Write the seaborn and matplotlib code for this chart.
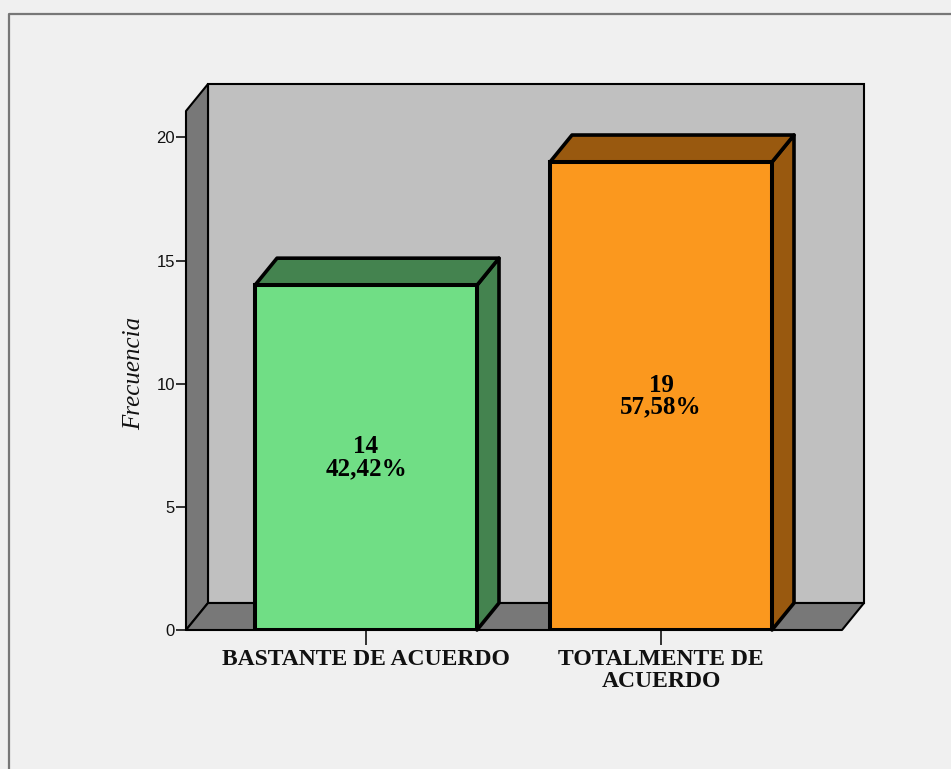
import matplotlib
matplotlib.use("Agg")
import matplotlib.pyplot as plt
import pandas as pd
import seaborn as sns
from matplotlib.lines import Line2D
from matplotlib.patches import Polygon
from matplotlib.transforms import ScaledTranslation

categories = ["BASTANTE DE ACUERDO", "TOTALMENTE DE\nACUERDO"]
frequencies = [14, 19]
percentages = ["42,42%", "57,58%"]
y_ticks = [0, 5, 10, 15, 20]

front_colors = ["#70DE85", "#FB981E"]
side_colors = ["#44834F", "#99590F"]
PANEL = "#F0F0F0"
WALL = "#C0C0C0"
FLOOR = "#787878"
INK = "#111111"

DPI = 100
W, H = 951, 769
DEPTH_X, DEPTH_Y = 22, 27  # extrusion of the 3D effect, pixels

sns.set_theme(style="white")
plt.rcParams["font.family"] = ["Liberation Serif", "DejaVu Serif"]

fig = plt.figure(figsize=(W / DPI, H / DPI), dpi=DPI, facecolor=PANEL)

# Frame of the output panel, open on the right and bottom
fig.add_artist(Line2D([9 / W, 9 / W, 1], [0, 1 - 14 / H, 1 - 14 / H],
                      transform=fig.transFigure, color="#777777", lw=1.6))

ax = fig.add_axes([186 / W, 1 - 630 / H, 656 / W, 519 / H])
ax.set_facecolor("none")

data = pd.DataFrame({"categoria": categories, "frecuencia": frequencies})
sns.barplot(data=data, x="categoria", y="frecuencia", hue="categoria",
            palette=front_colors, legend=False, dodge=False, saturation=1,
            width=222 / 295, edgecolor="black", linewidth=2.9, ax=ax, zorder=5)

ax.set_xlim(-180 / 295, 476 / 295)
ax.set_ylim(0, 519 / 24.63)

shift = ax.transData + ScaledTranslation(DEPTH_X / DPI, DEPTH_Y / DPI, fig.dpi_scale_trans)


def extruded_face(p0, p1, color, lw, z):
    """Parallelogram from the edge p0-p1 back to its translated copy."""
    to_display = ax.transData.transform
    to_shifted = shift.transform
    pts = [to_display(p0), to_display(p1), to_shifted(p1), to_shifted(p0)]
    ax.add_patch(Polygon(pts, closed=True, transform=None, facecolor=color,
                         edgecolor="black", linewidth=lw, zorder=z,
                         clip_on=False, joinstyle="round"))


x0, x1 = ax.get_xlim()
y0, y1 = ax.get_ylim()

# Back wall, side wall and floor of the box
ax.add_patch(Polygon([(x0, y0), (x1, y0), (x1, y1), (x0, y1)], closed=True,
                     transform=shift, facecolor=WALL, edgecolor="black",
                     linewidth=1.5, zorder=1, clip_on=False))
extruded_face((x0, y0), (x0, y1), FLOOR, 1.5, 2)
extruded_face((x0, y0), (x1, y0), FLOOR, 1.5, 2)

# Top and side faces of each column
for bar, side in zip(ax.patches[:len(frequencies)], side_colors):
    left, right, top = bar.get_x(), bar.get_x() + bar.get_width(), bar.get_height()
    extruded_face((right, 0), (right, top), side, 2.6, 4)
    extruded_face((left, top), (right, top), side, 2.6, 4)

for container, freq, pct in zip(ax.containers, frequencies, percentages):
    ax.bar_label(container, labels=[f"{freq}\n{pct}"], label_type="center",
                 fontsize=18, fontweight="bold", color="black",
                 linespacing=0.92, zorder=6)

ax.set_yticks(y_ticks)
ax.set_ylabel("Frecuencia", fontsize=18, style="italic", color=INK,
              labelpad=8, y=0.494)
ax.set_xlabel("")

ax.tick_params(axis="y", length=7, width=1.3, color="#222222", pad=1,
               labelsize=12, labelcolor=INK, left=True)
ax.tick_params(axis="x", length=11, width=1.3, color="#222222", pad=2.5,
               labelsize=17, labelcolor=INK, bottom=True)
for label in ax.get_yticklabels():
    label.set_fontfamily("Liberation Sans")
for label in ax.get_xticklabels():
    label.set_fontweight("bold")
    label.set_linespacing(1.05)

sns.despine(ax=ax, left=True, bottom=True, right=True, top=True)

fig.savefig("out.png", dpi=DPI, facecolor=PANEL)
